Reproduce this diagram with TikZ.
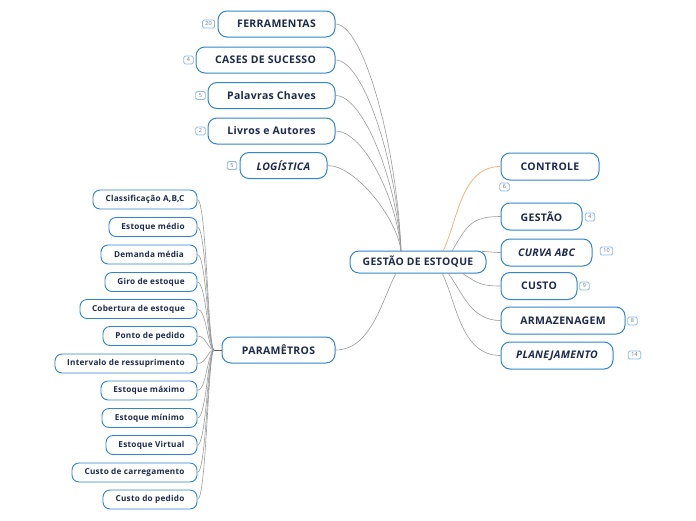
\documentclass[tikz,border=0pt]{standalone}
\usepackage{fontspec}
\setmainfont{Open Sans}[LetterSpace=3]
\usetikzlibrary{calc}
\definecolor{boxblue}{HTML}{2F86C9}
\definecolor{txt}{HTML}{1C2A4C}
\definecolor{lnk}{HTML}{9A9A9A}
\definecolor{orangelnk}{HTML}{F5B375}
\definecolor{badgeb}{HTML}{8DBBE2}
\definecolor{badget}{HTML}{5D7390}
\begin{document}
\begin{tikzpicture}[x=1pt,y=-1pt,
  mainbox/.style={draw=boxblue,line width=1pt,fill=white,rounded corners=9pt,
    minimum height=26pt,inner sep=0pt,text=txt,font=\fontsize{10.5}{12}\selectfont\bfseries},
  centerbox/.style={mainbox,minimum height=22pt,font=\fontsize{10.4}{12}\selectfont\bfseries},
  subbox/.style={draw=boxblue,line width=0.9pt,fill=white,rounded corners=7pt,
    minimum height=19pt,inner sep=0pt,text=txt,font=\fontsize{8.2}{9}\selectfont\bfseries},
  badge/.style={draw=badgeb,line width=0.9pt,rounded corners=1.5pt,fill=white,
    minimum height=8pt,minimum width=9.5pt,inner sep=0.6pt,text=badget,font=\fontsize{5.5}{6}\selectfont},
  link/.style={draw=lnk,line width=0.6pt},
  olink/.style={draw=orangelnk,line width=0.8pt}]
\useasboundingbox (0,0) rectangle (696,520);

% center
\node[centerbox,minimum width=136pt] (g) at (418,262) {GESTÃO DE ESTOQUE};
\coordinate (gt) at (401,251);
\coordinate (gb) at (396,273);

% top-left branches
\node[mainbox,minimum width=117pt] (f1) at (276.5,24) {FERRAMENTAS};
\node[mainbox,minimum width=139pt] (f2) at (265.5,60) {CASES DE SUCESSO};
\node[mainbox,minimum width=127pt] (f3) at (271.5,95.5) {Palavras Chaves};
\node[mainbox,minimum width=127pt] (f4) at (271.5,131) {Livros e Autores};
\node[mainbox,minimum width=87pt,font=\fontsize{10.5}{12}\selectfont\bfseries\itshape] (f5) at (283.5,165.5) {LOGÍSTICA};

\node[badge,minimum width=12pt] (b1) at (208.5,24) {20};
\node[badge] (b2) at (188.5,60) {4};
\node[badge] (b3) at (200.5,95.5) {5};
\node[badge] (b4) at (200.5,131) {2};
\node[badge] (b5) at (232,165.5) {5};

\foreach \n/\d in {f1/-190,f2/-160,f3/-125,f4/-95,f5/-60}{
  \draw[link] (\n.east) .. controls +(28,0) and +(-4,\d*0.55) .. (gt);
}

% right branches
\node[mainbox,minimum width=98pt,minimum height=27pt] (r1) at (550,166.5) {CONTROLE};
\node[mainbox,minimum width=81pt,minimum height=27pt] (r2) at (541.5,216.5) {GESTÃO};
\node[mainbox,minimum width=91pt,minimum height=27pt,font=\fontsize{10.5}{12}\selectfont\bfseries\itshape] (r3) at (546.5,252.5) {CURVA ABC};
\node[mainbox,minimum width=76pt,minimum height=27pt] (r4) at (539,286) {CUSTO};
\node[mainbox,minimum width=124pt,minimum height=27pt] (r5) at (563,320.5) {ARMAZENAGEM};
\node[mainbox,minimum width=112pt,minimum height=27pt,font=\fontsize{10.5}{12}\selectfont\bfseries\itshape] (r6) at (557,355.5) {PLANEJAMENTO};

\node[badge] (c1) at (504.5,187) {6};
\node[badge] (c2) at (590,217) {4};
\node[badge,minimum width=12.5pt] (c3) at (606.5,251) {10};
\node[badge] (c4) at (584.5,286) {9};
\node[badge] (c5) at (632.5,321) {8};
\node[badge,minimum width=12.5pt] (c6) at (634.5,355) {14};

\coordinate (g1) at (443,251);
\coordinate (g2) at (452,251);
\coordinate (g3) at (482,251.5);
\coordinate (g4) at (462,273);
\coordinate (g5) at (448,273);
\coordinate (g6) at (442,273);
\draw[olink] (g1) .. controls +(15,-30) and +(-40,0) .. (r1.west);
\draw[link] (g2) .. controls +(15,-25) and +(-30,0) .. (r2.west);
\draw[link] (g3) .. controls +(8,0) and +(-8,0) .. (r3.west);
\draw[link] (g4) .. controls +(15,10) and +(-20,0) .. (r4.west);
\draw[link] (g5) .. controls +(15,20) and +(-30,0) .. (r5.west);
\draw[link] (g6) .. controls +(15,30) and +(-40,0) .. (r6.west);

% PARAMETROS
\node[mainbox,minimum width=113pt] (p) at (278.5,350) {PARAMÊTROS};
\draw[link] (gb) .. controls +(-15,30) and +(35,0) .. (p.east);

\coordinate (pj) at (214,350);
\draw[draw=lnk!60!black,line width=1pt] (p.west) -- (pj);

\node[subbox,minimum width=104pt] (s1) at (145,199.5) {Classificação A,B,C};
\node[subbox,minimum width=88pt] (s2) at (153,227) {Estoque médio};
\node[subbox,minimum width=96pt] (s3) at (149,254.5) {Demanda média};
\node[subbox,minimum width=92pt] (s4) at (151,282) {Giro de estoque};
\node[subbox,minimum width=117pt] (s5) at (138.5,309) {Cobertura de estoque};
\node[subbox,minimum width=94pt] (s6) at (150,336) {Ponto de pedido};
\node[subbox,minimum width=142pt] (s7) at (126,363.5) {Intervalo de ressuprimento};
\node[subbox,minimum width=96pt] (s8) at (149,390.5) {Estoque máximo};
\node[subbox,minimum width=95pt] (s9) at (149.5,418) {Estoque mínimo};
\node[subbox,minimum width=91pt] (s10) at (151.5,445) {Estoque Virtual};
\node[subbox,minimum width=125pt] (s11) at (134.5,472.5) {Custo de carregamento};
\node[subbox,minimum width=94pt] (s12) at (150,499.5) {Custo do pedido};

\foreach \n in {s1,s2,s3,s4,s5,s6,s7,s8,s9,s10,s11,s12}{
  \draw[link] (\n.east) .. controls +(9,0) and (208,350) .. (pj);
}
\end{tikzpicture}
\end{document}
